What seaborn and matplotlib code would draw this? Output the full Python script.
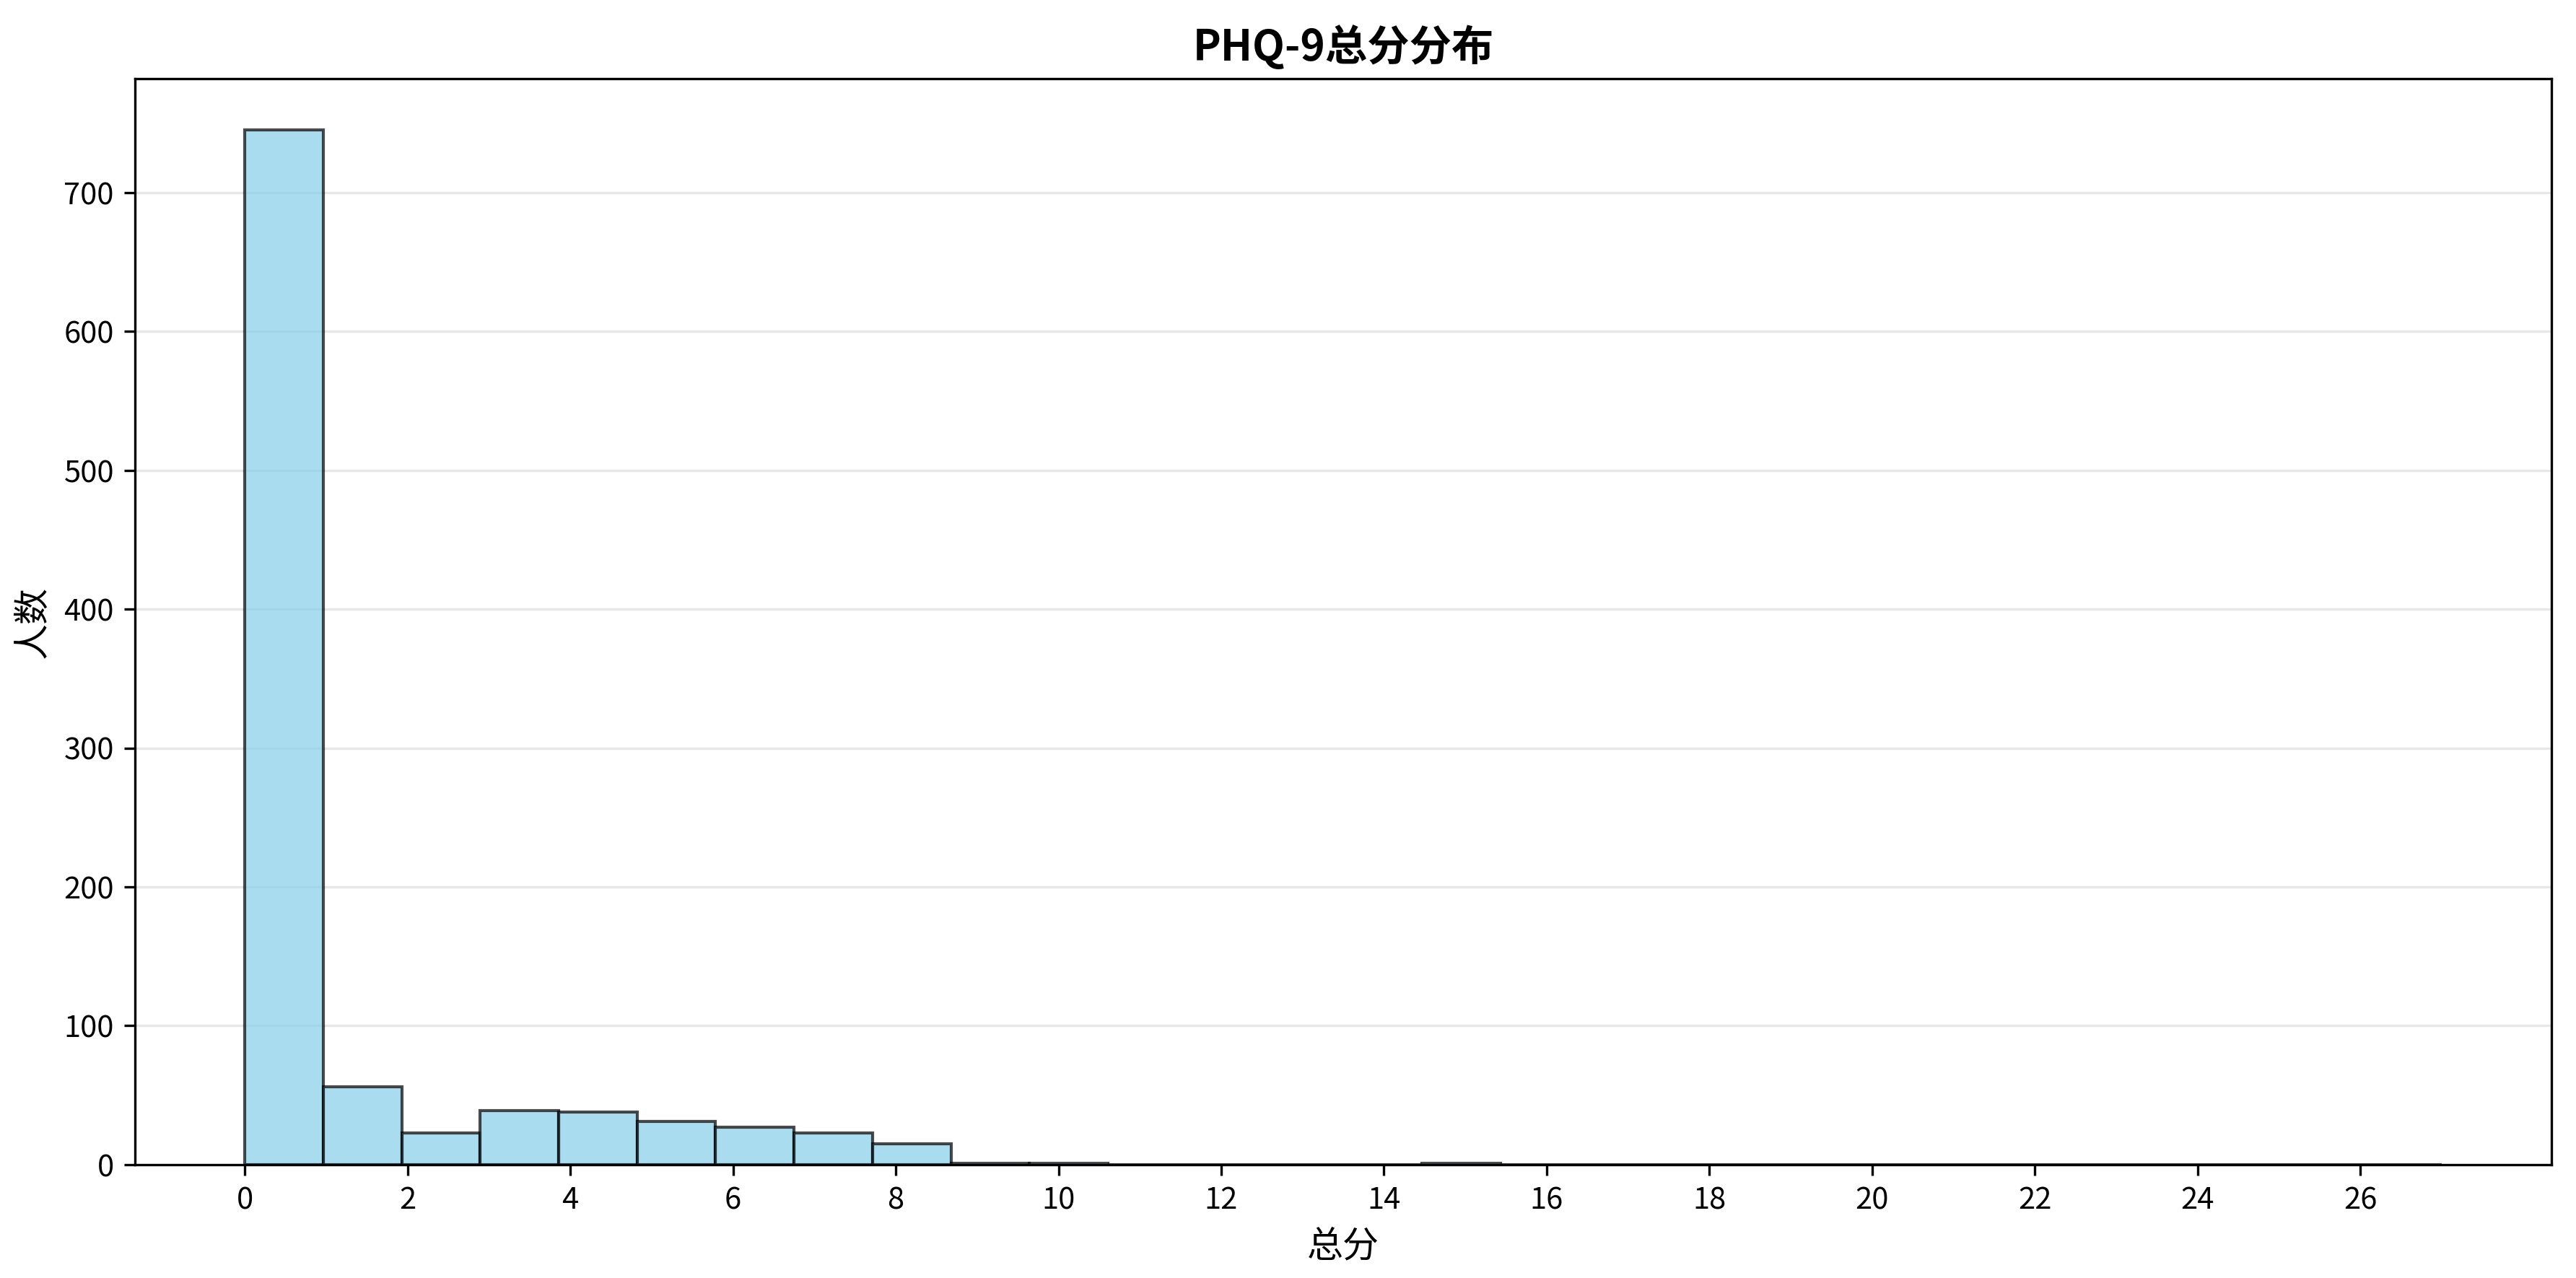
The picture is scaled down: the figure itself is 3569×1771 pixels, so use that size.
import numpy as np
import pandas as pd
import seaborn as sns
import matplotlib.pyplot as plt

# PHQ-9 total score and number of people with that score
scores = list(range(0, 28))
counts = [745, 56, 23, 39, 38, 31, 27, 23, 15, 1, 1, 0, 0, 0,
          0, 1, 0, 0, 0, 0, 0, 0, 0, 0, 0, 0, 0, 0]

df = pd.DataFrame({"总分": scores, "人数": counts})

plt.rcParams['font.family'] = ['Noto Sans CJK SC', 'DejaVu Sans']
plt.rcParams['axes.unicode_minus'] = False

fig, ax = plt.subplots(figsize=(11.897, 5.9045), dpi=300)
fig.subplots_adjust(left=0.0524, right=0.9905, top=0.9385, bottom=0.0887)

sns.histplot(data=df, x="总分", weights="人数", bins=28, binrange=(0, 27),
             color="skyblue", edgecolor=(0, 0, 0, 0.7), alpha=0.7,
             linewidth=1, ax=ax)

ax.set_title("PHQ-9总分分布", fontsize=14, fontweight="bold")
ax.set_xlabel("总分", fontsize=12)
ax.set_ylabel("人数", fontsize=12)
ax.set_xticks(range(0, 27, 2))
ax.grid(axis="y", alpha=0.3)
ax.set_axisbelow(True)

plt.savefig("out.png", dpi=300)
